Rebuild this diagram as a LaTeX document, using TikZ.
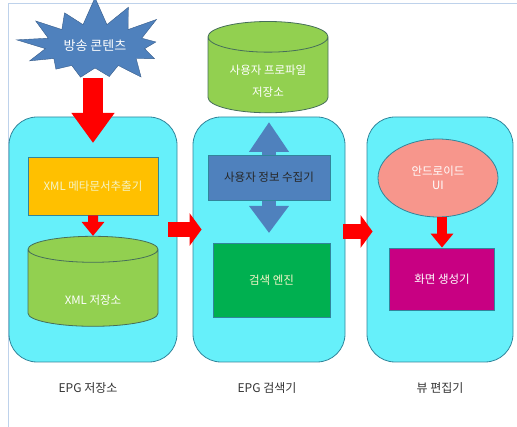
\documentclass[tikz,border=0pt]{standalone}
\usepackage{fontspec}
\setmainfont{Noto Sans CJK KR}
\usetikzlibrary{shapes.geometric, shapes.symbols, arrows.meta, positioning}

\definecolor{starblue}{RGB}{79,129,189}
\definecolor{starline}{RGB}{56,93,138}
\definecolor{boxcyan}{RGB}{102,240,250}
\definecolor{boxline}{RGB}{49,133,155}
\definecolor{xmlorange}{RGB}{255,192,0}
\definecolor{dbgreen}{RGB}{146,208,80}
\definecolor{dbline}{RGB}{70,110,90}
\definecolor{enginegreen}{RGB}{0,176,80}
\definecolor{salmon}{RGB}{247,150,140}
\definecolor{screenmag}{RGB}{200,0,130}
\definecolor{paleyellow}{RGB}{245,245,200}
\definecolor{framegray}{RGB}{190,210,235}

\begin{document}
\begin{tikzpicture}[
        x=1pt, y=-1pt,
        font=\fontsize{11.5}{14}\selectfont,
        % Styles
        stage/.style={% For the three big cyan boxes
            rectangle,
            rounded corners=28pt,
            draw=boxline,
            fill=boxcyan,
            line width=0.8pt,
            minimum height=245pt,
            },
        block/.style={% For the inner boxes
            rectangle,
            draw=boxline,
            line width=0.8pt,
            align=center,
            text=white,
            },
        store/.style={% For the databases
            cylinder,
            shape border rotate=90,
            draw=dbline,
            fill=dbgreen,
            line width=0.8pt,
            align=center,
            text=white,
            inner sep=0pt,
            },
        caption/.style={% Names under the boxes
            font=\fontsize{12}{14}\selectfont,
            text=black!80,
            },
        bigarrow/.style={% Fat red arrows
            red,
            line width=15pt,
            -{Triangle[width=32pt,length=12pt]},
            },
        feedarrow/.style={% Fat red arrow from the contents
            red,
            line width=20pt,
            -{Triangle[width=41pt,length=30pt]},
            },
        smallarrow/.style={% Small red arrows inside the boxes
            red,
            line width=10pt,
            -{Triangle[width=22pt,length=14pt]},
            },
        updown/.style={% Two headed arrow of the collector
            starblue,
            line width=14pt,
            {Triangle[width=38pt,length=30pt]}-{Triangle[width=38pt,length=27pt]},
            },
        ]

    \useasboundingbox (0,0) rectangle (517,427);
    \draw [framegray, line width=0.8pt] (8,427) -- (8,3) -- (517,3);

    % Draw the stage boxes
    \node [stage, minimum width=168pt] (stage1) at (93,239.5) {};
    \node [stage, minimum width=152pt] (stage2) at (269,239.5) {};
    \node [stage, minimum width=146pt] (stage3) at (440,239.5) {};

    % Draw the contents burst
    \coordinate (feed) at (93,78);
    \draw [feedarrow] (feed) -- (93,143);
    \node [starburst, random starburst=17, starburst points=13, starburst point height=30pt,
           draw=starline, fill=starblue, text=white, font=\fontsize{13}{15}\selectfont,
           minimum width=160pt, minimum height=104pt] (burst) at (95,46) {방송 콘텐츠};

    % EPG store
    \node [block, fill=xmlorange, text=paleyellow, minimum width=130pt, minimum height=58pt] (extractor) at (93,186) {XML 메타문서추출기};
    \node [store, aspect=0.46, minimum width=130pt, minimum height=90pt] (xmlstore) at (93,288) {\\[20pt]XML 저장소};
    \draw [smallarrow] (extractor.south) -- (xmlstore.north);

    % EPG search
    \node [store, aspect=0.4, minimum width=120pt, minimum height=65pt] (profile) at (268,75) {\\[8pt]사용자 프로파일\\[8pt]저장소};
    \coordinate (askup) at (269,122);
    \coordinate (askdown) at (269,233);
    \draw [updown] (askup) -- (askdown);
    \node [block, fill=starblue, text=black!85, minimum width=122pt, minimum height=45pt] (collector) at (269,177.5) {사용자 정보 수집기};
    \node [block, fill=enginegreen, text=paleyellow, minimum width=117pt, minimum height=74pt] (engine) at (271.5,280) {검색 엔진};

    % View editor
    \node [ellipse, draw=boxline, fill=salmon, text=white, align=center, line width=0.8pt,
           minimum width=120pt, minimum height=78pt, inner sep=0pt] (android) at (438,178) {안드로이드\\UI};
    \node [block, fill=screenmag, minimum width=105pt, minimum height=62pt] (screen) at (442,279) {화면 생성기};
    \draw [smallarrow] (screen.north |- android.south) -- (screen.north);

    % Arrows between the stages
    \draw [bigarrow, shorten <=-9pt, shorten >=-9pt] ([yshift=10pt]stage1.east) -- ([yshift=10pt]stage2.west);
    \draw [bigarrow, shorten <=-2pt, shorten >=-6pt] ([yshift=8pt]stage2.east) -- ([yshift=8pt]stage3.west);

    % Captions
    \node [caption] (cap1) at (88,388) {EPG 저장소};
    \node [caption] (cap2) at (267,388) {EPG 검색기};
    \node [caption] (cap3) at (440,388) {뷰 편집기};

\end{tikzpicture}
\end{document}
